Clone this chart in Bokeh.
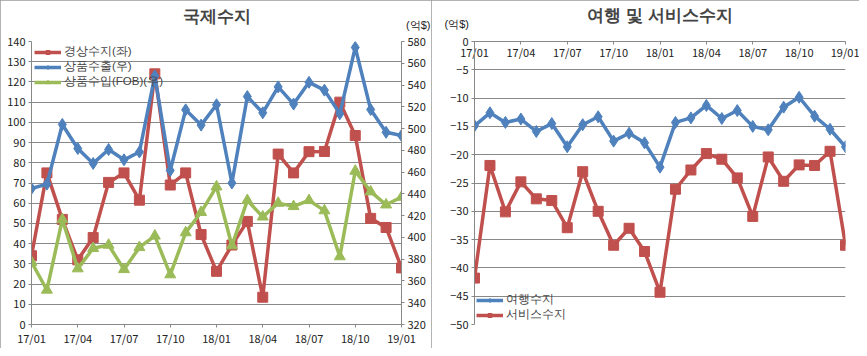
from bokeh.plotting import figure
from bokeh.models import Range1d, LinearAxis, FixedTicker, Title
from bokeh.layouts import row
from bokeh.embed import file_html
from bokeh.resources import INLINE

months = ["17/01", "17/02", "17/03", "17/04", "17/05", "17/06", "17/07", "17/08", "17/09",
          "17/10", "17/11", "17/12", "18/01", "18/02", "18/03", "18/04", "18/05", "18/06",
          "18/07", "18/08", "18/09", "18/10", "18/11", "18/12", "19/01"]
current_account = [34, 75, 52, 32, 43, 70.3, 75, 61.5, 124, 69, 75, 44.5, 26.3, 39.3, 51,
                   13.5, 84.3, 75, 85.5, 85.6, 110, 93.5, 52.5, 48, 28]
exports = [445, 449, 503.8, 481.7, 468, 480.8, 471.3, 478.5, 548.4, 461.5, 517.2, 503.2,
           521.9, 450, 529.4, 514.5, 538.3, 522.5, 542.5, 535.3, 513.6, 574.6, 517.5, 496.6, 493.6]
imports = [377.3, 351.7, 416.5, 371.3, 390, 393, 370.6, 390.8, 401.4, 365.8, 404.4, 423.1,
           446.6, 392.4, 434, 418.9, 431.5, 428.5, 434, 424.6, 382.4, 461, 442, 430, 437]
travel = [-14.9, -12.6, -14.3, -13.7, -15.9, -14.5, -18.6, -14.7, -13.3, -17.6, -16.2, -17.9,
          -22.2, -14.3, -13.5, -11.3, -13.6, -12.2, -15.0, -15.6, -11.6, -9.85, -13.2, -15.5, -18.6]
services = [-41.8, -21.9, -30.1, -24.8, -27.8, -28.1, -32.9, -23.0, -30.0, -36.0, -33.0, -37.1,
            -44.3, -26.1, -22.7, -19.8, -20.8, -24.1, -30.9, -20.4, -24.7, -21.8, -21.9, -19.4, -36.0]

x = list(range(len(months)))
x_ticks = list(range(0, len(months), 3))
x_labels = {i: months[i] for i in x_ticks}

RED = "#C0504D"
BLUE = "#4F81BD"
GREEN = "#9BBB59"
GRID = "#888888"
FONT = "Noto Sans CJK KR"
LEG_FONT = "Liberation Sans"
TICK_FS = "11px"


def style_axis(ax):
    ax.axis_line_color = GRID
    ax.major_tick_line_color = GRID
    ax.minor_tick_line_color = None
    ax.major_label_text_font = FONT
    ax.major_label_text_font_size = TICK_FS
    ax.major_label_text_color = "#222222"


def style_legend(lg, loc, margin):
    lg.location = loc
    lg.margin = margin
    lg.padding = 2
    lg.spacing = 0
    lg.glyph_width = 27
    lg.glyph_height = 10
    lg.label_height = 10
    lg.label_standoff = 3
    lg.label_text_font = LEG_FONT
    lg.label_text_font_size = "11.5px"
    lg.background_fill_alpha = 0
    lg.border_line_color = None


def style_title(p, text):
    p.title.text = text
    p.title.align = "center"
    p.title.text_font = LEG_FONT
    p.title.text_font_size = "17px"
    p.title.text_font_style = "bold"
    p.title.vertical_align = "bottom"
    p.title.standoff = 0


def unit_title(align, offset):
    return Title(text="(억$)", align=align, offset=offset, standoff=-18, vertical_align="bottom",
                 padding=dict(left=0, right=0, top=0, bottom=20),
                 text_font=LEG_FONT, text_font_size="11px", text_font_style="normal",
                 text_color="#222222")


# ---------------- left chart ----------------
p1 = figure(width=431, height=348, x_range=Range1d(0, 24), y_range=Range1d(0, 140),
            output_backend="svg", toolbar_location=None,
            min_border_left=31, min_border_right=30, min_border_top=41, min_border_bottom=17)
p1.extra_y_ranges = {"right": Range1d(320, 580)}
p1.outline_line_color = None
p1.background_fill_color = "white"
p1.border_fill_color = "white"
style_title(p1, "국제수지")
p1.add_layout(unit_title("right", -29), "above")

p1.xaxis.ticker = FixedTicker(ticks=x_ticks)
p1.xaxis.major_label_overrides = x_labels
p1.yaxis.ticker = FixedTicker(ticks=list(range(0, 141, 10)))
raxis = LinearAxis(y_range_name="right", ticker=FixedTicker(ticks=list(range(320, 581, 20))))
p1.add_layout(raxis, "right")
for ax in p1.axis:
    style_axis(ax)
    ax.major_tick_in = 0
    ax.major_tick_out = 3
    ax.major_label_standoff = 3
p1.xaxis.major_label_standoff = 2
p1.xgrid.visible = False
p1.ygrid.grid_line_color = GRID
p1.ygrid.grid_line_width = 1

p1.line(x, current_account, color=RED, line_width=3.5, legend_label="경상수지(좌)")
p1.scatter(x, current_account, marker="square", size=10, color=RED, legend_label="경상수지(좌)")
p1.line(x, exports, color=BLUE, line_width=3.5, y_range_name="right", legend_label="상품수출(우)")
p1.scatter(x, exports, marker="diamond", size=12, color=BLUE, y_range_name="right", legend_label="상품수출(우)")
p1.line(x, imports, color=GREEN, line_width=3.5, y_range_name="right", legend_label="상품수입(FOB)(우)")
p1.scatter(x, imports, marker="triangle", size=11, color=GREEN, y_range_name="right", legend_label="상품수입(FOB)(우)")
style_legend(p1.legend[0], "top_left", 3)
p1.styles = {"outline": "1px solid #9a9a9a", "outline-offset": "-1px"}

# ---------------- right chart ----------------
p2 = figure(width=428, height=348, x_range=Range1d(0, 24), y_range=Range1d(-50, 0),
            x_axis_location="above",
            output_backend="svg", toolbar_location=None,
            min_border_left=43, min_border_right=14, min_border_top=41, min_border_bottom=17)
p2.outline_line_color = None
p2.background_fill_color = "white"
p2.border_fill_color = "white"
style_title(p2, "여행 및 서비스수지")
p2.add_layout(unit_title("left", -30), "above")

p2.xaxis.ticker = FixedTicker(ticks=x_ticks)
p2.xaxis.major_label_overrides = x_labels
p2.yaxis.ticker = FixedTicker(ticks=list(range(-50, 1, 5)))
for ax in p2.axis:
    style_axis(ax)
p2.yaxis.major_tick_in = 0
p2.yaxis.major_tick_out = 3
p2.yaxis.major_label_standoff = 3
p2.xaxis.major_tick_in = 3
p2.xaxis.major_tick_out = 0
p2.xaxis.major_label_standoff = -18
p2.xgrid.visible = False
p2.ygrid.grid_line_color = GRID
p2.ygrid.grid_line_width = 1

p2.line(x, travel, color=BLUE, line_width=3.5, legend_label="여행수지")
p2.scatter(x, travel, marker="diamond", size=12, color=BLUE, legend_label="여행수지")
p2.line(x, services, color=RED, line_width=3.5, legend_label="서비스수지")
p2.scatter(x, services, marker="square", size=10, color=RED, legend_label="서비스수지")
style_legend(p2.legend[0], "bottom_left", 2)
p2.styles = {"outline": "1px solid #9a9a9a", "outline-offset": "-1px"}

layout = row(p1, p2)
open("out.html", "w").write(file_html(layout, INLINE))
